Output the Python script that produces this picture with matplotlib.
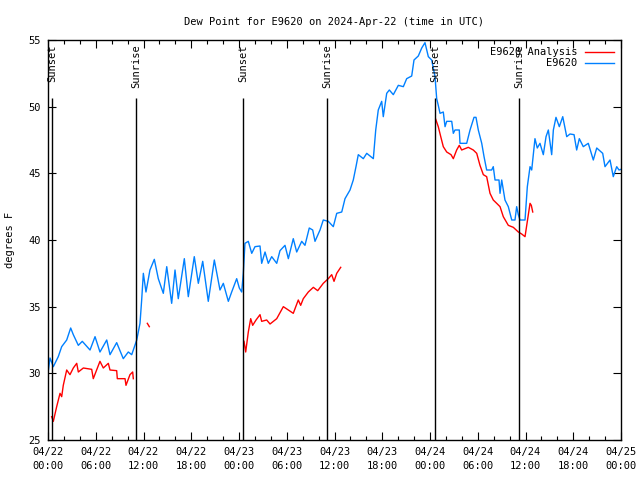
import numpy as np
import matplotlib
matplotlib.use("Agg")
import matplotlib.pyplot as plt
from matplotlib.ticker import MultipleLocator

nan = np.nan

# hours since 2024-04-22 00:00 UTC
obs_hours = [0.0, 0.25, 0.67, 1.29, 1.72, 2.35, 2.85, 3.18, 3.81, 4.31, 5.28, 5.91,
             6.53, 7.38, 7.79, 8.63, 9.46, 10.09, 10.52, 11.15, 11.56, 11.77, 11.98,
             12.31, 12.81, 13.36, 13.86, 14.49, 14.92, 15.54, 15.96, 16.37, 17.13,
             17.63, 18.38, 18.89, 19.44, 20.14, 20.90, 21.61, 22.03, 22.66, 23.08,
             23.71, 24.04, 24.34, 24.54, 24.75, 25.17, 25.60, 26.01, 26.64, 26.85,
             27.27, 27.68, 28.11, 28.74, 29.15, 29.78, 30.20, 30.82, 31.25, 31.88,
             32.29, 32.83, 33.26, 33.55, 34.18, 34.59, 35.22, 35.85, 36.28, 36.91,
             37.32, 37.95, 38.36, 38.70, 38.99, 39.62, 40.05, 40.88, 41.18, 41.50,
             41.93, 42.13, 42.56, 42.89, 43.39, 44.02, 44.65, 45.07, 45.70, 45.99,
             46.53, 46.96, 47.37, 47.79, 48.21, 48.63, 48.84, 49.04, 49.26, 49.67,
             49.89, 50.10, 50.73, 50.93, 51.14, 51.68, 51.77, 52.61, 53.03, 53.53,
             53.78, 54.07, 54.50, 54.79, 55.12, 55.75, 55.95, 56.17, 56.67, 56.80,
             57.01, 57.42, 57.84, 58.27, 58.68, 58.89, 59.10, 59.31, 59.94, 60.23,
             60.57, 60.78, 61.19, 61.48, 61.82, 62.24, 62.58, 62.87, 63.29, 63.50,
             63.83, 64.25, 64.68, 65.18, 65.59, 66.10, 66.43, 66.76, 67.26, 67.89,
             68.52, 68.95, 69.70, 69.99, 70.62, 71.03, 71.46, 71.75, 72.0]
obs_dewpt = [30.0, 31.15, 30.5, 31.25, 32.0, 32.5, 33.4, 32.9, 32.1, 32.4, 31.75, 32.75,
             31.6, 32.5, 31.4, 32.3, 31.1, 31.6, 31.4, 32.5, 33.75, 35.5, 37.5,
             36.1, 37.75, 38.55, 37.1, 36.0, 38.0, 35.25, 37.75, 35.6, 38.6,
             35.75, 38.75, 36.75, 38.4, 35.4, 38.5, 36.25, 36.75, 35.4, 36.1,
             37.1, 36.4, 36.1, 37.5, 39.75, 39.9, 39.0, 39.5, 39.55, 38.25,
             39.1, 38.25, 38.75, 38.25, 39.2, 39.6, 38.6, 40.1, 39.1, 39.9,
             39.6, 40.9, 40.75, 39.9, 40.75, 41.5, 41.4, 41.0, 42.0, 42.1,
             43.1, 43.75, 44.5, 45.5, 46.4, 46.1, 46.5, 46.1, 48.25, 49.75,
             50.4, 49.25, 51.0, 51.25, 50.9, 51.6, 51.5, 52.1, 52.3, 53.5,
             53.8, 54.4, 54.8, 53.75, 53.5, 52.25, 50.6, 50.1, 49.5, 49.6,
             48.5, 48.9, 48.9, 48.0, 48.25, 48.25, 47.25, 47.25, 48.25, 49.2,
             49.2, 48.25, 47.25, 46.25, 45.25, 45.25, 45.5, 44.5, 44.5, 43.5,
             44.5, 43.0, 42.5, 41.5, 41.5, 42.5, 41.9, 41.5, 41.5, 44.0,
             45.5, 45.25, 47.6, 46.9, 47.25, 46.4, 47.75, 48.25, 46.4, 48.25,
             49.2, 48.5, 49.25, 47.75, 47.95, 47.9, 46.75, 47.6, 47.0, 47.25,
             46.0, 46.9, 46.5, 45.5, 46.0, 44.75, 45.5, 45.25, 45.3]

ana_hours = [0.46, 0.67, 1.09, 1.51, 1.72, 1.92, 2.35, 2.76, 3.18, 3.61, 3.81, 4.44,
             5.49, 5.69, 6.53, 6.95, 7.58, 7.79, 8.63, 8.71, 9.68, 9.80, 10.30,
             10.64, 10.72, 11.5,
             12.48, 12.73, 13.5,
             24.63, 24.84, 25.17, 25.47, 25.72, 26.14, 26.64, 26.85, 27.48, 27.90,
             28.74, 29.57, 30.20, 30.82, 31.45, 31.75, 32.08, 32.71, 33.34, 33.89,
             34.59, 35.22, 35.65, 35.94, 36.28, 36.78, 40.0,
             48.72, 49.04, 49.35, 49.67, 50.10, 50.64, 50.93, 51.35, 51.68, 51.98,
             52.81, 53.44, 53.87, 54.28, 54.70, 55.12, 55.54, 55.95, 56.38, 56.80,
             57.21, 57.84, 58.47, 59.10, 59.52, 59.94, 60.23, 60.57, 60.73, 60.91]
ana_dewpt = [26.75, 26.4, 27.5, 28.5, 28.25, 29.1, 30.25, 29.9, 30.4, 30.75, 30.1, 30.4,
             30.3, 29.6, 30.9, 30.4, 30.75, 30.25, 30.2, 29.6, 29.6, 29.1, 29.9,
             30.1, 29.6, nan,
             33.75, 33.5, nan,
             32.4, 31.6, 33.1, 34.1, 33.6, 34.0, 34.4, 33.9, 34.0, 33.7,
             34.1, 35.0, 34.75, 34.5, 35.5, 35.1, 35.6, 36.1, 36.45, 36.2,
             36.75, 37.1, 37.4, 36.9, 37.5, 37.95, nan,
             49.05, 48.5, 47.75, 47.0, 46.6, 46.4, 46.1, 46.75, 47.1, 46.75,
             46.95, 46.75, 46.5, 45.6, 44.9, 44.75, 43.5, 43.0, 42.75, 42.5,
             41.75, 41.1, 40.95, 40.6, 40.45, 40.25, 41.4, 42.75, 42.6, 42.1]

sun_hours = [0.5, 11.06, 24.5, 35.05, 48.6, 59.2]
sun_labels = ["Sunset", "Sunrise", "Sunset", "Sunrise", "Sunset", "Sunrise"]

tick_hours = [0, 6, 12, 18, 24, 30, 36, 42, 48, 54, 60, 66, 72]
tick_labels = ["04/22\n00:00", "04/22\n06:00", "04/22\n12:00", "04/22\n18:00",
               "04/23\n00:00", "04/23\n06:00", "04/23\n12:00", "04/23\n18:00",
               "04/24\n00:00", "04/24\n06:00", "04/24\n12:00", "04/24\n18:00",
               "04/25\n00:00"]

plt.rcParams['font.family'] = ['DejaVu Sans Mono']
plt.rcParams['font.size'] = 7.5

fig = plt.figure(figsize=(6.4, 4.8), dpi=100)
ax = fig.add_axes([48 / 640, 40 / 480, 573 / 640, 400 / 480])

ax.plot(ana_hours, ana_dewpt, color="#ff0000", lw=1, label="E9620 Analysis")
ax.plot(obs_hours, obs_dewpt, color="#0080ff", lw=1, label="E9620")

for h, lab in zip(sun_hours, sun_labels):
    ax.vlines(h, 25, 50.65, color="black", lw=1)
    ax.text(h, 54.65, lab, rotation=90, ha="center", va="top", fontsize=7.5)

ax.set_xlim(0, 72)
ax.set_ylim(25, 55)
ax.set_xticks(tick_hours)
ax.set_xticklabels(tick_labels, linespacing=1.55)
ax.xaxis.set_minor_locator(MultipleLocator(2))
ax.yaxis.set_major_locator(MultipleLocator(5))
ax.tick_params(which="both", direction="in", top=True, right=True, width=0.8)
ax.tick_params(which="major", length=6, pad=5)
ax.tick_params(which="minor", length=3)
for s in ax.spines.values():
    s.set_linewidth(1)

ax.set_ylabel("degrees F", labelpad=10)
ax.set_title("Dew Point for E9620 on 2024-Apr-22 (time in UTC)", fontsize=7.5, pad=11)

ax.legend(loc="upper right", frameon=False, markerfirst=False, handlelength=2.8,
          borderaxespad=0.3, labelspacing=0.1, handletextpad=0.7)

fig.savefig("out.png", dpi=100)
